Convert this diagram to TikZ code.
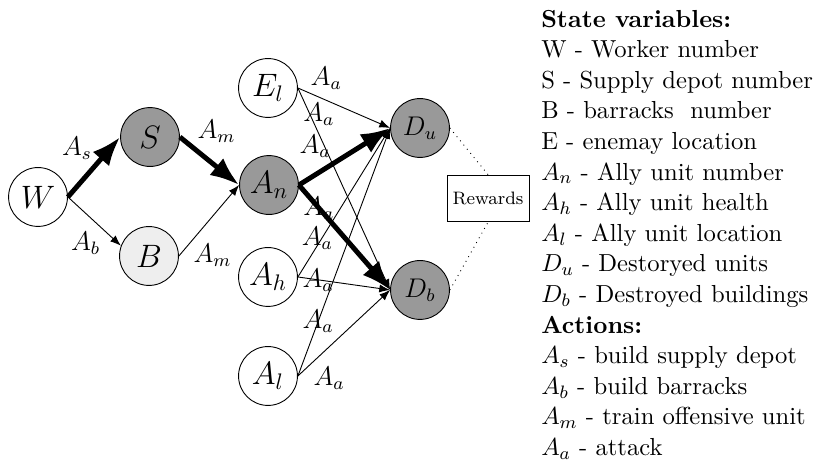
\documentclass[11pt,tikz,border=0pt]{standalone}
\usepackage{tikz}
\usetikzlibrary{arrows.meta,positioning}
\usepackage{xcolor}
\definecolor{nodegray}{RGB}{153,153,153}
\definecolor{nodelight}{RGB}{238,238,238}

\begin{document}
\begin{tikzpicture}[
  state/.style={circle, draw=black, minimum size=9.2mm, inner sep=0pt, font=\Large, line width=0.4pt},
  obs/.style={state, fill=nodegray},
  part/.style={state, fill=nodelight},
  goal/.style={obs, font=\large},
  arr/.style={-{Latex}, line width=0.4pt},
  thickarr/.style={-{Latex}, line width=2.2pt},
  lbl/.style={font=\large, inner sep=1pt}
]
\useasboundingbox (0,0) rectangle (12.75,-7.2);

\node[state] (W) at (0.594,-3.078) {$W$};
\node[obs] (S) at (2.344,-2.141) {$S$};
\node[part] (B) at (2.328,-4.0) {$B$};
\node[obs] (An) at (4.203,-2.891) {$A_n$};
\node[state] (El) at (4.1875,-1.375) {$E_l$};
\node[state] (Ah) at (4.1875,-4.328) {$A_h$};
\node[state] (Al) at (4.1875,-5.875) {$A_l$};
\node[goal] (Du) at (6.5625,-2.0) {$D_u$};
\node[goal] (Db) at (6.5625,-4.531) {$D_b$};
\node[draw, rectangle, minimum width=12.8mm, minimum height=7.3mm, font=\scriptsize, inner sep=2pt] (rew) at (7.625,-3.10) {Rewards};

\draw[thickarr] (W.east) -- node[lbl, pos=.55, anchor=south east] (ls) {$A_s$} (S.west);
\draw[arr] (W.east) -- node[lbl, pos=.66, anchor=north east] (lb) {$A_b$} (B.160);
\draw[thickarr] (S.east) -- node[lbl, pos=.22, anchor=south west] (lm1) {$A_m$} (An.west);
\draw[arr] (B.east) -- node[lbl, pos=.2, anchor=north west] (lm2) {$A_m$} (An.west);

\foreach \a/\b/\s/\p/\anc/\dx in {El/Du/arr/.11/south west/0, El/Db/arr/.13/center/4,
    An/Du/thickarr/.40/south east/0, An/Db/thickarr/.22/center/0,
    Ah/Du/arr/.26/center/-2, Ah/Db/arr/.22/center/0,
    Al/Du/arr/.22/center/0, Al/Db/arr/.14/north west/0}
  \draw[\s] (\a.east) -- node[lbl, pos=\p, anchor=\anc, xshift=\dx pt] (l\a\b) {$A_a$} (\b.west);

\draw[dotted] (Du.east) -- (rew.north);
\draw[dotted] (Db.east) -- (rew.south);

% legend
\node[anchor=north west, align=left, inner sep=0pt, font=\fontsize{10.95}{13.6}\selectfont] (legend) at (8.45,-0.15) {\textbf{State variables:}\\
  W - Worker number\\
  S - Supply depot number\\
  B - barracks~ number\\
  E - enemay location\\
  $A_n$ - Ally unit number\\
  $A_h$ - Ally unit health\\
  $A_l$ - Ally unit location\\
  $D_u$ - Destoryed units\\
  $D_b$ - Destroyed buildings\\
  \textbf{Actions:}\\
  $A_s$ - build supply depot\\
  $A_b$ - build barracks\\
  $A_m$ - train offensive unit\\
  $A_a$ - attack};
\end{tikzpicture}
\end{document}
